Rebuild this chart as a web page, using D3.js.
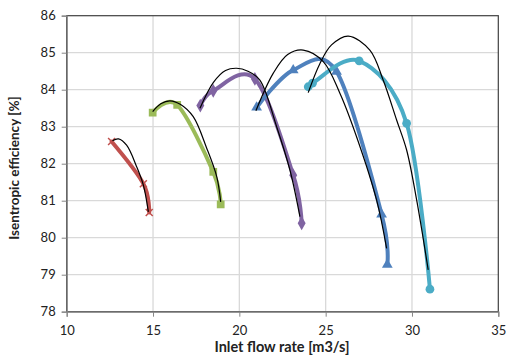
<!DOCTYPE html>
<html><head><meta charset="utf-8">
<script src="https://cdn.jsdelivr.net/npm/d3@7"></script>
<style>
body{margin:0;background:#fff;}
svg{display:block;font-family:Lato,"Open Sans",sans-serif;}
</style></head>
<body><svg id="c" width="506" height="359"></svg>
<script>
// Data (flow [m3/s], efficiency [%])
const xTicks = [10,15,20,25,30,35];
const yTicks = [78,79,80,81,82,83,84,85,86];

const redPts    = [[12.6,82.60],[14.44,81.46],[14.78,80.68]];
const greenPts  = [[14.98,83.38],[16.40,83.59],[18.49,81.78],[18.92,80.90]];
const purplePts = [[17.74,83.57],[18.49,83.97],[20.90,84.29],[23.12,81.69],[23.61,80.39]];
const bluePts   = [[21.00,83.52],[23.12,84.53],[25.63,84.49],[28.24,80.63],[28.57,79.27]];
const cyanPts   = [[23.99,84.08],[24.24,84.18],[26.94,84.78],[29.69,83.09],[31.04,78.61]];

const redFit    = [[12.65,82.62],[13.0,82.67],[13.47,82.50],[14.05,81.92],[14.44,81.42],[14.73,80.70]];
const greenFit  = [[14.98,83.41],[15.45,83.62],[15.98,83.70],[16.60,83.60],[17.33,83.27],[18.11,82.42],[18.69,81.65],[18.92,80.97]];
const purpleFit = [[17.72,83.50],[18.5,84.20],[19.2,84.52],[19.84,84.58],[20.5,84.50],[21.19,84.26],[22.16,83.00],[22.93,81.83],[23.51,80.57]];
const blueFit   = [[20.96,83.43],[21.96,84.44],[22.8,84.95],[23.70,85.07],[24.86,84.76],[25.83,83.90],[26.79,82.73],[27.95,81.02],[28.53,79.71]];
const cyanFit   = [[23.99,83.92],[24.67,84.71],[25.34,85.21],[26.31,85.45],[27.56,85.07],[28.33,84.26],[29.11,83.18],[29.69,82.37],[30.27,81.02],[30.94,79.13]];

const series = [
  {pts:redPts,    fit:redFit,    color:"#C0504D", marker:"x"},
  {pts:greenPts,  fit:greenFit,  color:"#9BBB59", marker:"square"},
  {pts:purplePts, fit:purpleFit, color:"#8064A2", marker:"diamond"},
  {pts:bluePts,   fit:blueFit,   color:"#4F81BD", marker:"triangle"},
  {pts:cyanPts,   fit:cyanFit,   color:"#4BACC6", marker:"circle"}
];

const L=66.7, R=498.3, T=15.7, B=311.7;
const x = d3.scaleLinear().domain([10,35]).range([L,R]);
const y = d3.scaleLinear().domain([78,86]).range([B,T]);
const svg = d3.select("#c");

// grid
svg.append("g").selectAll("line").data(xTicks.slice(1,-1)).join("line")
  .attr("x1",d=>x(d)).attr("x2",d=>x(d)).attr("y1",T).attr("y2",B)
  .attr("stroke","#d9d9d9").attr("stroke-width",1.3);
svg.append("g").selectAll("line").data(yTicks.slice(1,-1)).join("line")
  .attr("y1",d=>y(d)).attr("y2",d=>y(d)).attr("x1",L).attr("x2",R)
  .attr("stroke","#d9d9d9").attr("stroke-width",1.3);

// border
svg.append("rect").attr("x",L).attr("y",T).attr("width",R-L).attr("height",B-T)
  .attr("fill","none").attr("stroke","#404040").attr("stroke-width",1.2);

// axes
const xAxis = svg.append("g").attr("transform",`translate(0,${B})`)
  .call(d3.axisBottom(x).tickValues(xTicks).tickSize(5).tickPadding(9));
const yAxis = svg.append("g").attr("transform",`translate(${L},0)`)
  .call(d3.axisLeft(y).tickValues(yTicks).tickSize(5).tickPadding(6));
[xAxis,yAxis].forEach(a=>{
  a.select(".domain").attr("stroke","#868686").attr("stroke-width",1.2);
  a.selectAll(".tick line").attr("stroke","#868686");
  a.selectAll("text").attr("font-size",13).attr("fill","#222").attr("font-family","Lato,'Open Sans',sans-serif");
});

// lines (Excel-like smoothing)
const smooth = d3.line().x(d=>x(d[0])).y(d=>y(d[1])).curve(d3.curveCardinal.tension(0));
const fitLine = d3.line().x(d=>x(d[0])).y(d=>y(d[1])).curve(d3.curveCatmullRom.alpha(0.5));
const sym = {square:d3.symbolSquare, diamond:d3.symbolDiamond, triangle:d3.symbolTriangle, circle:d3.symbolCircle};
const sizes = {square:60, diamond:55, triangle:50, circle:60};

series.forEach(s=>{
  svg.append("path").attr("d",smooth(s.pts)).attr("fill","none")
    .attr("stroke",s.color).attr("stroke-width",4).attr("stroke-linecap","round");
  const g = svg.append("g");
  s.pts.forEach(p=>{
    if(s.marker==="x"){
      const cx=x(p[0]), cy=y(p[1]), r=3.5;
      g.append("path").attr("d",`M${cx-r},${cy-r}L${cx+r},${cy+r}M${cx-r},${cy+r}L${cx+r},${cy-r}`)
        .attr("stroke",s.color).attr("stroke-width",1.5);
    } else {
      g.append("path").attr("d",d3.symbol().type(sym[s.marker]).size(sizes[s.marker])())
        .attr("transform",`translate(${x(p[0])},${y(p[1])})`).attr("fill",s.color);
    }
  });
});
series.forEach(s=>{
  svg.append("path").attr("d",fitLine(s.fit)).attr("fill","none")
    .attr("stroke","#000").attr("stroke-width",1.2);
});

// titles
svg.append("text").attr("x",282).attr("y",352).attr("text-anchor","middle")
  .attr("font-size",14.5).attr("font-weight","bold").attr("fill","#222").text("Inlet flow rate [m3/s]");
svg.append("text").attr("transform",`translate(19,168) rotate(-90)`).attr("text-anchor","middle")
  .attr("font-size",13.5).attr("font-weight","bold").attr("fill","#222").text("Isentropic efficiency [%]");
</script></body></html>
